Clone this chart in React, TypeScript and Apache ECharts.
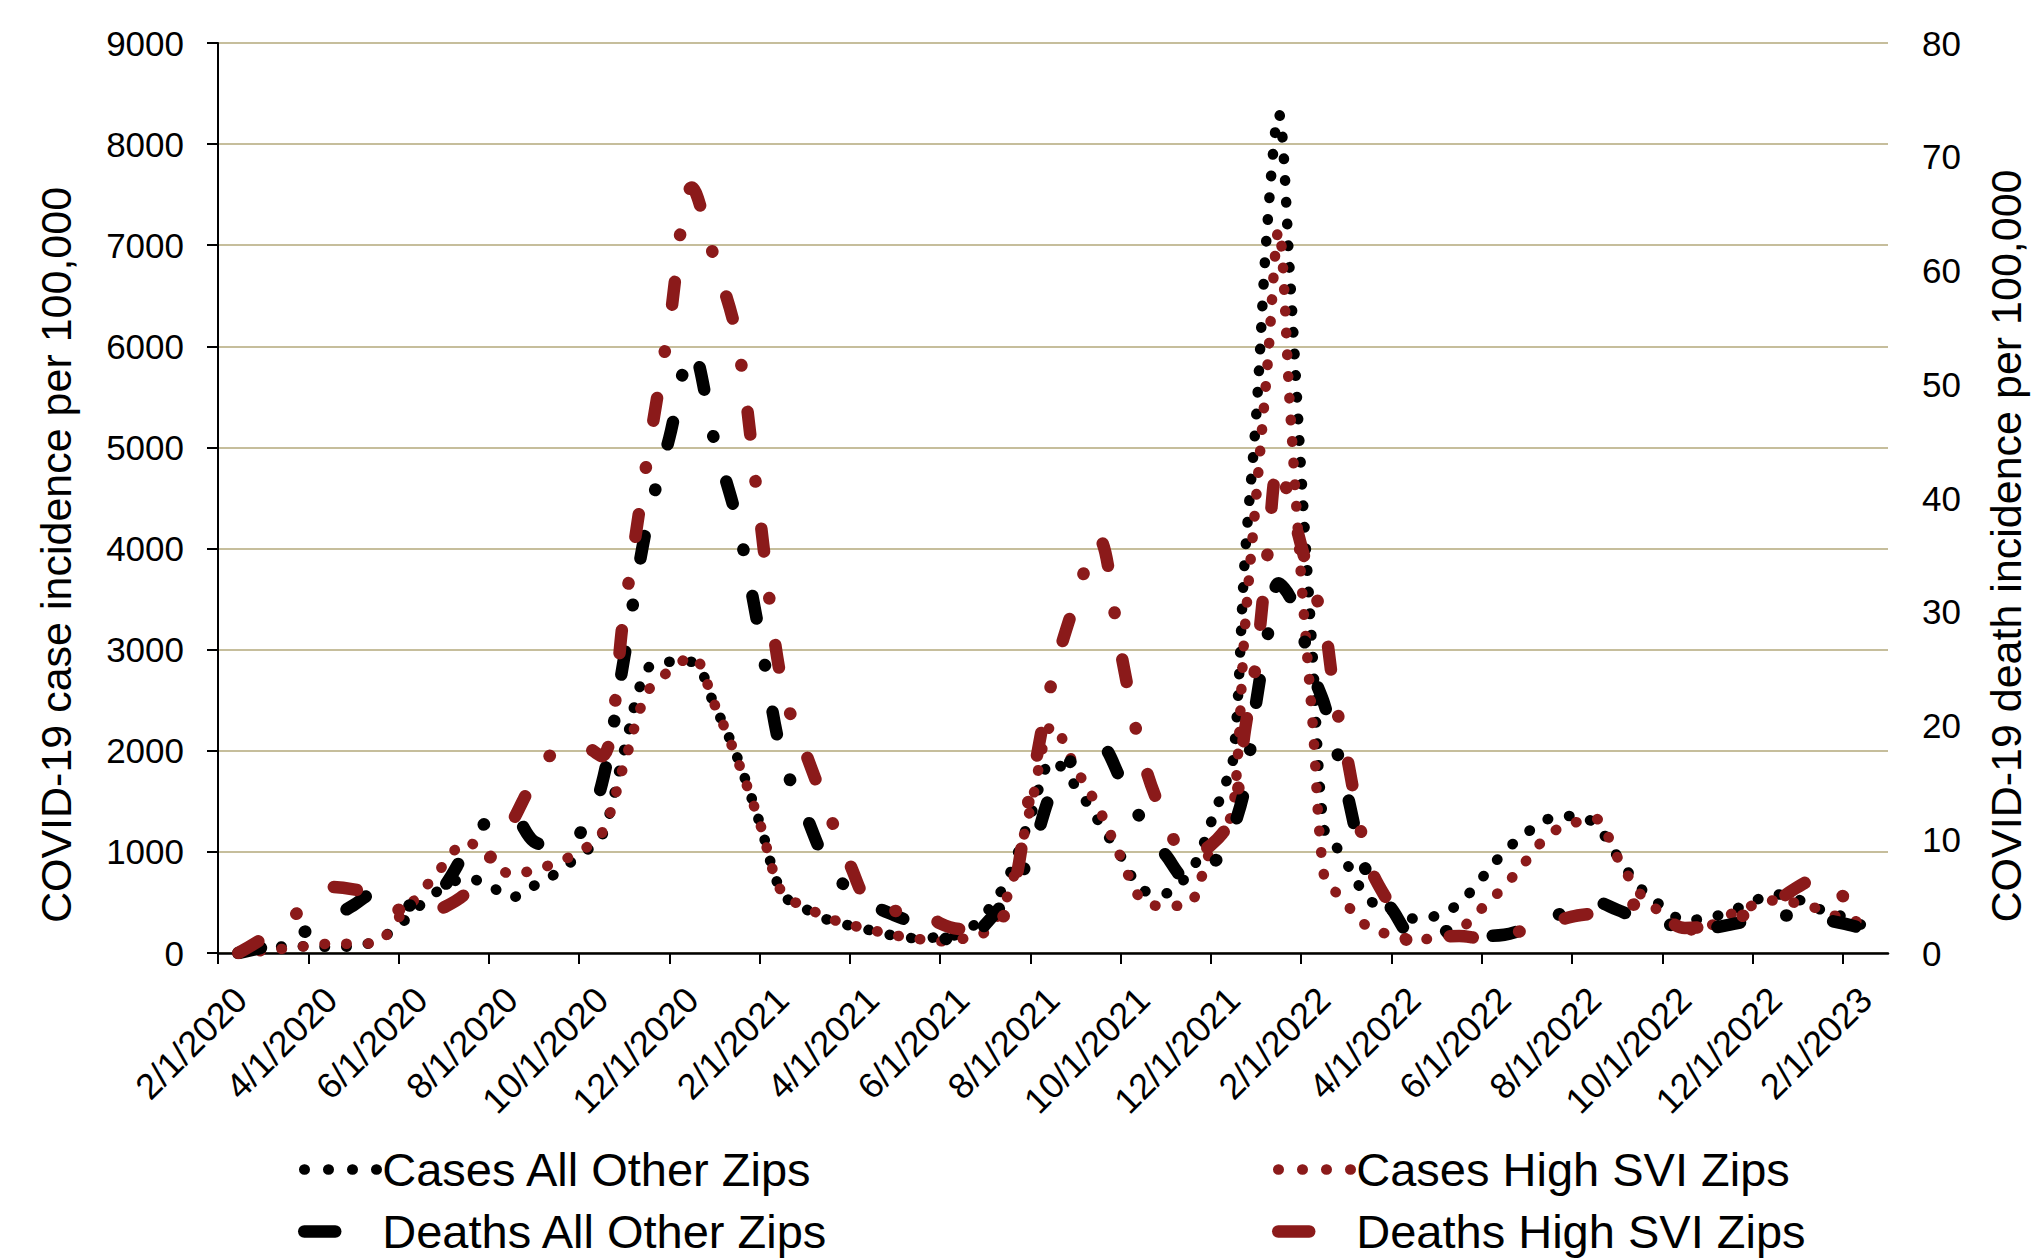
import React, { useEffect, useRef } from "react";
import * as echarts from "echarts";

// x positions in months after 2/1/2020
const months = [
  0.45, 1, 1.5, 2, 2.5, 3, 3.5, 4, 4.5, 5, 5.5, 6, 6.5, 7, 7.5, 8, 8.5, 9, 9.5, 10,
  10.5, 11, 11.5, 12, 12.5, 13, 13.5, 14, 14.5, 15, 15.5, 16, 16.5, 17, 17.5, 18, 18.5, 19, 19.5, 20,
  20.5, 21, 21.5, 21.75, 22, 22.25, 22.5, 22.75, 23, 23.25, 23.5, 23.75, 24, 24.25, 24.5, 24.75, 25, 25.5, 26, 26.5,
  27, 27.5, 28, 28.5, 29, 29.5, 30, 30.5, 31, 31.5, 32, 32.5, 33, 33.5, 34, 34.5, 35, 35.5, 36, 36.5,
];

const casesOther = [
  0, 30, 66, 66, 60, 68, 120, 270, 480, 650, 740, 670, 551, 665, 790, 965, 1150, 2010, 2800, 2880,
  2880, 2450, 1940, 1290, 590, 440, 330, 270, 220, 170, 145, 160, 200, 390, 740, 1350, 1900, 1650, 1310, 960,
  620, 590, 780, 980, 1290, 1590, 1950, 3900, 5300, 7200, 8300, 6700, 4750, 2970, 1240, 1070, 890, 530, 420, 340,
  370, 490, 740, 1000, 1190, 1330, 1355, 1280, 960, 650, 460, 325, 345, 410, 510, 580, 530, 430, 360, 260,
];

const casesHigh = [
  0, 20, 45, 70, 92, 92, 100, 350, 600, 870, 1100, 945, 780, 820, 895, 1000, 1180, 1870, 2570, 2790,
  2930, 2460, 1920, 1290, 590, 460, 350, 280, 225, 175, 140, 115, 140, 210, 575, 1430, 2250, 1830, 1440, 950,
  510, 465, 480, 700, 1030, 1180, 1450, 3200, 4500, 5800, 7150, 5400, 3700, 2280, 780, 610, 480, 250, 180, 135,
  150, 230, 440, 660, 920, 1175, 1280, 1330, 950, 590, 385, 220, 260, 380, 470, 520, 490, 430, 340, 300,
];

const deathsOther = [
  0, 0.5, 1.2, 2.0, 3.0, 4.2, 5.3, 4.5, 4.0, 5.8, 9.0, 11.7, 12.1, 9.8, 9.4, 10.4, 14.8, 26, 37.6, 45.3,
  53, 45, 38, 28, 17.2, 12.4, 7.8, 5.5, 4.2, 3.3, 2.5, 1.5, 0.7, 2.5, 5.0, 8.6, 14.5, 17.3, 18.4, 15.3,
  11.4, 8.6, 6.4, 6.9, 7.8, 8.7, 11.0, 14.6, 22, 27.8, 32.5, 31.3, 28.5, 24.6, 22, 18.4, 14.3, 6.5, 3.9, 1.5,
  1.8, 2.0, 1.5, 1.6, 2.2, 3.0, 3.9, 4.5, 3.8, 3.0, 2.6, 2.3, 2.2, 2.5, 2.9, 3.3, 3.3, 3.0, 2.6, 2.1,
];

const deathsHigh = [
  0, 1.3, 2.8, 4.2, 5.8, 5.6, 5.1, 3.8, 3.3, 4.0, 5.3, 8.2, 11.4, 15.2, 17.9, 18.3, 17.3, 30, 43.2, 55.3,
  67.3, 61, 54, 38.5, 23.5, 17.8, 12.6, 7.8, 4.0, 3.7, 4.0, 2.6, 2.1, 2.4, 3.8, 14.3, 24.3, 31, 36.5, 26.5,
  17, 11.6, 8.3, 8.8, 9.5, 10.5, 12, 19.5, 25.6, 35, 43, 39.6, 35.8, 32.2, 29.2, 22.3, 17.5, 7.9, 4.0, 0.7,
  1.3, 1.5, 1.3, 1.6, 2.05, 2.6, 3.2, 3.5, 3.9, 4.3, 3.2, 2.2, 2.35, 2.9, 3.6, 4.5, 5.8, 6.7, 5.0, 2.7,
];

const tickLabels = [
  "2/1/2020", "4/1/2020", "6/1/2020", "8/1/2020", "10/1/2020", "12/1/2020",
  "2/1/2021", "4/1/2021", "6/1/2021", "8/1/2021", "10/1/2021", "12/1/2021",
  "2/1/2022", "4/1/2022", "6/1/2022", "8/1/2022", "10/1/2022", "12/1/2022", "2/1/2023",
];
const tickMonths = tickLabels.map((_, i) => i * 2);

const seriesNames = [
  "Cases All Other Zips",
  "Cases High SVI Zips",
  "Deaths All Other Zips",
  "Deaths High SVI Zips",
];

const FONT = '"Liberation Sans", Arial, Helvetica, sans-serif';
const BLACK = "#000000";
const RED = "#8B1A1A";
const GRID = "#C6BE9C";

const DOT_W = 10.5;
const DASH_W = 12.5;
const DOTTED = [0.5, 21.2];
const DASHDOT = [23, 47, 0.5, 47];

export default function App() {
  const ref = useRef<HTMLDivElement>(null);

  useEffect(() => {
    if (!ref.current) return;
    const chart = echarts.init(ref.current, undefined, { renderer: "svg" });

    const pair = (vals: number[]) => months.map((m, i) => [m, vals[i]]);

    const mkSeries = (name: string, vals: number[], color: string, axis: number, dashed: boolean, z: number) => ({
      name,
      type: "line",
      yAxisIndex: axis,
      data: pair(vals),
      symbol: "none",
      showSymbol: false,
      smooth: 0.35,
      color,
      silent: true,
      z,
      lineStyle: {
        color,
        width: dashed ? DASH_W : DOT_W,
        type: dashed ? DASHDOT : DOTTED,
        cap: "round",
        join: "round",
      },
    });

    const legendItem = (name: string, color: string, dashed: boolean) => ({
      name,
      itemStyle: { opacity: 0 },
      lineStyle: {
        color,
        width: dashed ? DASH_W : DOT_W,
        type: dashed ? [31, 200] : [0.5, 23.5],
        cap: "round",
        opacity: 1,
      },
    });

    const legendCommon = {
      orient: "vertical",
      top: 1146,
      height: 200,
      padding: 0,
      itemWidth: 73,
      itemHeight: 14,
      itemGap: 15,
      selectedMode: false,
      textStyle: { fontSize: 47, fontFamily: FONT, color: BLACK, lineHeight: 46 },
    };

    const axisLabelStyle = { fontSize: 35, fontFamily: FONT, color: BLACK };

    chart.setOption({
      animation: false,
      backgroundColor: "#ffffff",
      grid: { left: 218, right: 144, top: 43, bottom: 306, containLabel: false },
      legend: [
        {
          ...legendCommon,
          left: 298,
          data: [legendItem(seriesNames[0], BLACK, false), legendItem(seriesNames[2], BLACK, true)],
        },
        {
          ...legendCommon,
          left: 1272,
          data: [legendItem(seriesNames[1], RED, false), legendItem(seriesNames[3], RED, true)],
        },
      ],
      xAxis: {
        type: "value",
        min: 0,
        max: 37,
        splitLine: { show: false },
        axisLine: { show: true, onZero: false, lineStyle: { color: BLACK, width: 2.5 } },
        axisTick: { show: true, length: 11, customValues: tickMonths, lineStyle: { color: BLACK, width: 2 } },
        axisLabel: {
          ...axisLabelStyle,
          fontSize: 36,
          customValues: tickMonths,
          formatter: (v: number) => tickLabels[Math.round(v / 2)] ?? "",
          rotate: 45,
          margin: 18,
          align: "right",
          verticalAlign: "top",
          padding: [14, 0, 0, 0],
        },
      },
      yAxis: [
        {
          type: "value",
          position: "left",
          min: 0,
          max: 9000,
          interval: 1000,
          axisLine: { show: true, lineStyle: { color: BLACK, width: 2 } },
          axisTick: { show: true, length: 11, lineStyle: { color: BLACK, width: 2 } },
          axisLabel: { ...axisLabelStyle, margin: 34, formatter: (v: number) => String(v) },
          splitLine: { show: true, lineStyle: { color: GRID, width: 2 } },
        },
        {
          type: "value",
          position: "right",
          min: 0,
          max: 80,
          interval: 10,
          axisLine: { show: false },
          axisTick: { show: false },
          axisLabel: { ...axisLabelStyle, margin: 34, formatter: (v: number) => String(v) },
          splitLine: { show: false },
        },
      ],
      graphic: [
        {
          type: "text",
          x: 56,
          y: 555,
          rotation: Math.PI / 2,
          style: {
            text: "COVID-19 case incidence per 100,000",
            font: `43px ${FONT}`,
            fill: BLACK,
            align: "center",
            verticalAlign: "middle",
          },
        },
        {
          type: "text",
          x: 2006,
          y: 546,
          rotation: Math.PI / 2,
          style: {
            text: "COVID-19 death incidence per 100,000",
            font: `43px ${FONT}`,
            fill: BLACK,
            align: "center",
            verticalAlign: "middle",
          },
        },
      ],
      series: [
        mkSeries(seriesNames[0], casesOther, BLACK, 0, false, 2),
        mkSeries(seriesNames[1], casesHigh, RED, 0, false, 3),
        mkSeries(seriesNames[2], deathsOther, BLACK, 1, true, 4),
        mkSeries(seriesNames[3], deathsHigh, RED, 1, true, 5),
      ],
    });

    return () => chart.dispose();
  }, []);

  return (
    <div
      ref={ref}
      style={{ position: "fixed", left: 0, top: 0, width: 2032, height: 1259, background: "#fff" }}
    />
  );
}
